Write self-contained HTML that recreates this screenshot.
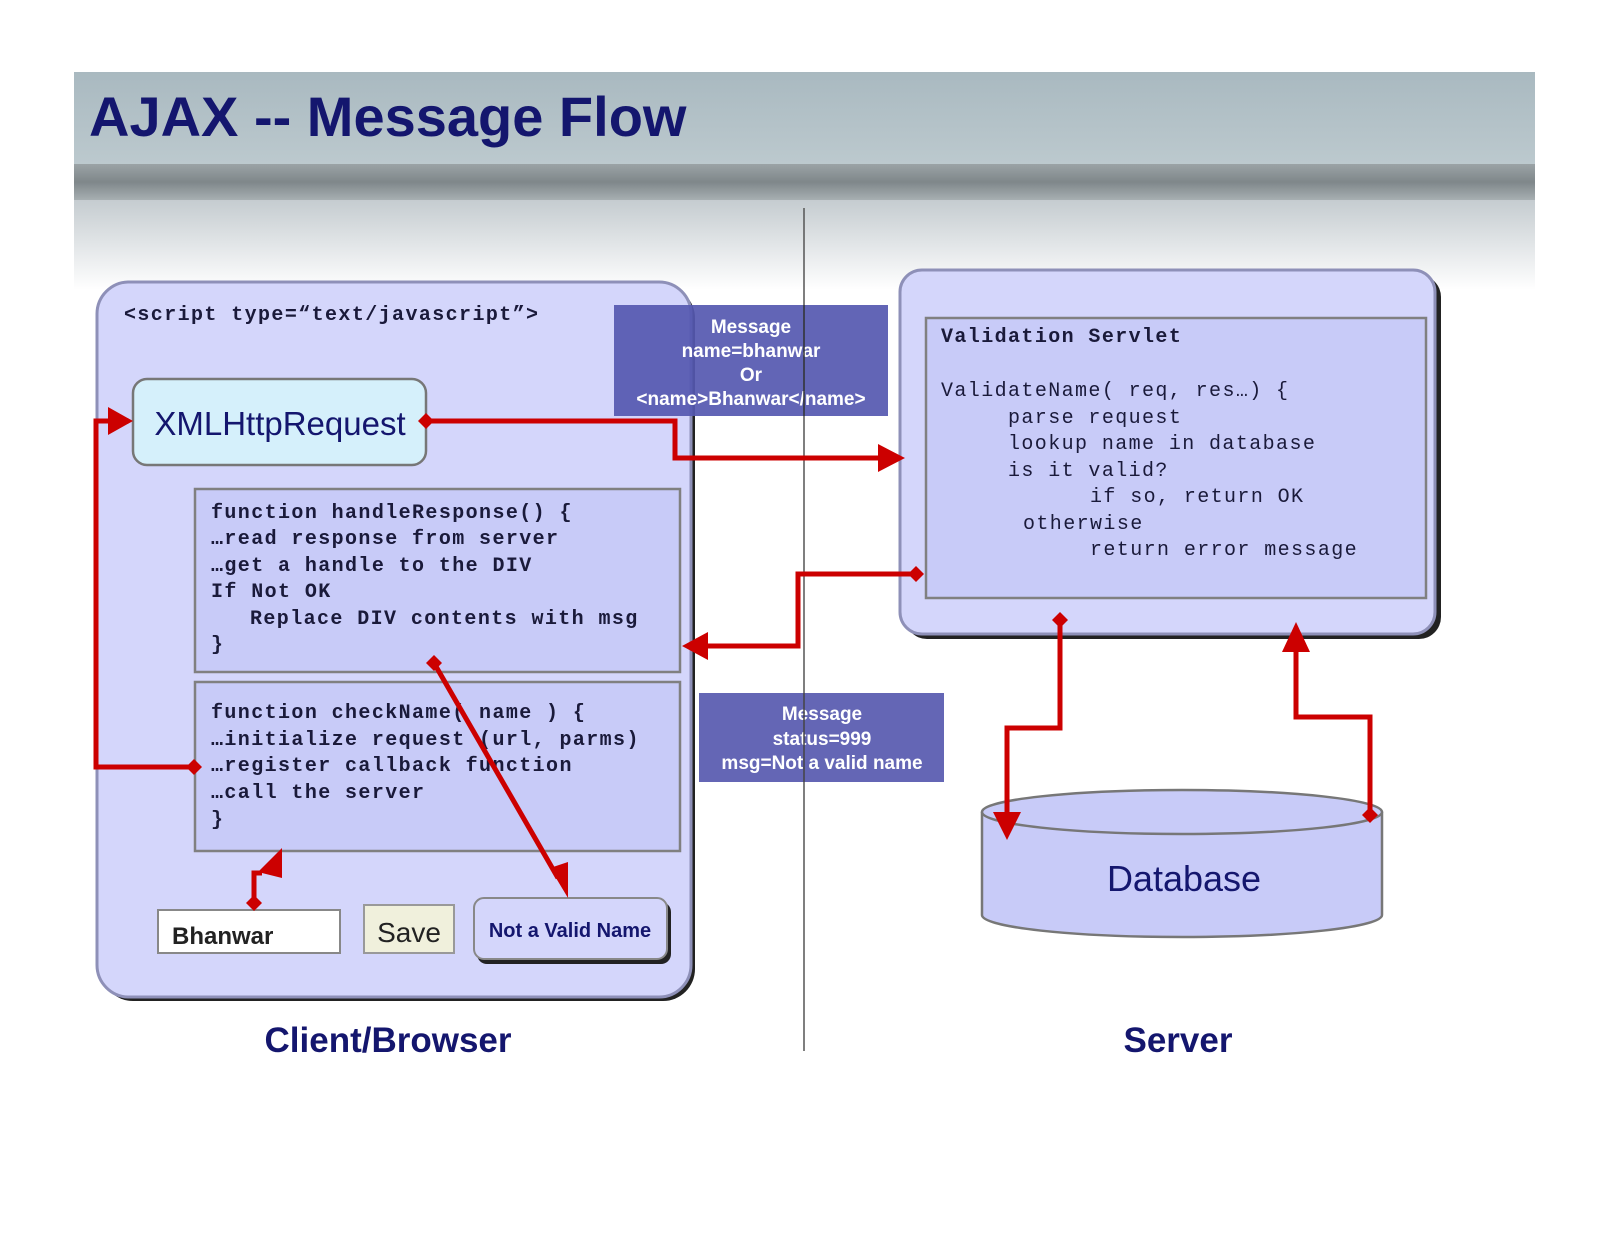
<!DOCTYPE html>
<html><head><meta charset="utf-8"><style>
html,body{margin:0;padding:0;background:#fff}
svg{display:block}
.mono{font-family:"Liberation Mono",monospace;font-size:20px;letter-spacing:1.4px;fill:#1a1a3a}
.b{font-weight:bold}
.msg{font-family:"Liberation Sans Narrow","Liberation Sans",sans-serif;font-weight:bold;font-size:19px;fill:#fff}
</style></head><body>
<svg width="1600" height="1236" viewBox="0 0 1600 1236" xmlns="http://www.w3.org/2000/svg">
<defs>
<linearGradient id="hg" x1="0" y1="0" x2="0" y2="1">
<stop offset="0" stop-color="#a9b9c0"/><stop offset="1" stop-color="#bcc9ce"/></linearGradient>
<linearGradient id="strip" x1="0" y1="0" x2="0" y2="1">
<stop offset="0" stop-color="#9ba3a6"/><stop offset="0.5" stop-color="#7f878a"/><stop offset="1" stop-color="#a7afb2"/></linearGradient>
<linearGradient id="fade" x1="0" y1="0" x2="0" y2="1">
<stop offset="0" stop-color="#c5ccd0"/><stop offset="1" stop-color="#ffffff"/></linearGradient>
</defs>
<rect x="74" y="72" width="1461" height="92" fill="url(#hg)"/>
<rect x="74" y="164" width="1461" height="36" fill="url(#strip)"/>
<rect x="74" y="200" width="1461" height="90" fill="url(#fade)"/>
<text x="89" y="136" font-family="Liberation Sans,sans-serif" font-weight="bold" font-size="56" fill="#14166e">AJAX -- Message Flow</text>

<line x1="804" y1="208" x2="804" y2="1051" stroke="#555" stroke-width="1.5"/>

<!-- client box -->
<rect x="101" y="286" width="594" height="715" rx="32" fill="#222"/>
<rect x="97" y="282" width="594" height="715" rx="32" fill="#d4d6fb" stroke="#8e90b8" stroke-width="3"/>
<text x="124" y="320" class="mono b">&lt;script type=“text/javascript”&gt;</text>
<rect x="133" y="379" width="293" height="86" rx="14" fill="#d5f0fb" stroke="#777" stroke-width="2.5"/>
<text x="280" y="435" text-anchor="middle" font-family="Liberation Sans,sans-serif" font-size="33" fill="#14166e">XMLHttpRequest</text>

<rect x="195" y="489" width="485" height="183" fill="#c8cbf8" stroke="#808080" stroke-width="2.5"/>
<text class="mono b"><tspan x="211" y="518">function handleResponse() {</tspan><tspan x="211" y="544">…read response from server</tspan><tspan x="211" y="571">…get a handle to the DIV</tspan><tspan x="211" y="597">If Not OK</tspan><tspan x="250" y="624">Replace DIV contents with msg</tspan><tspan x="211" y="650">}</tspan></text>

<rect x="195" y="682" width="485" height="169" fill="#c8cbf8" stroke="#808080" stroke-width="2.5"/>
<text class="mono b"><tspan x="211" y="718">function checkName( name ) {</tspan><tspan x="211" y="745">…initialize request (url, parms)</tspan><tspan x="211" y="771">…register callback function</tspan><tspan x="211" y="798">…call the server</tspan><tspan x="211" y="825">}</tspan></text>

<rect x="158" y="910" width="182" height="43" fill="#fff" stroke="#888" stroke-width="2"/>
<text x="172" y="944" font-family="Liberation Sans Narrow,Liberation Sans,sans-serif" font-weight="bold" font-size="24" fill="#222">Bhanwar</text>
<rect x="364" y="905" width="90" height="48" fill="#f0f0dc" stroke="#999" stroke-width="2"/>
<text x="409" y="942" text-anchor="middle" font-family="Liberation Sans,sans-serif" font-size="28" fill="#222">Save</text>
<rect x="477" y="902" width="194" height="62" rx="10" fill="#222"/>
<rect x="474" y="898" width="193" height="61" rx="10" fill="#d4d6fb" stroke="#888" stroke-width="2"/>
<text x="570" y="937" text-anchor="middle" font-family="Liberation Sans Narrow,Liberation Sans,sans-serif" font-weight="bold" font-size="20" fill="#14166e">Not a Valid Name</text>

<!-- messages -->
<rect x="614" y="305" width="274" height="111" fill="#5558b0" opacity="0.92"/>
<text class="msg" text-anchor="middle"><tspan x="751" y="333">Message</tspan><tspan x="751" y="357">name=bhanwar</tspan><tspan x="751" y="381">Or</tspan><tspan x="751" y="405">&lt;name&gt;Bhanwar&lt;/name&gt;</tspan></text>
<rect x="699" y="693" width="245" height="89" fill="#6466b5"/>
<text class="msg" text-anchor="middle"><tspan x="822" y="720">Message</tspan><tspan x="822" y="745">status=999</tspan><tspan x="822" y="769">msg=Not a valid name</tspan></text>
<line x1="804" y1="693" x2="804" y2="782" stroke="#444" stroke-width="1.5"/>
<line x1="804" y1="305" x2="804" y2="416" stroke="#333" stroke-width="1.5"/>

<!-- server -->
<rect x="905" y="275" width="536" height="364" rx="22" fill="#222"/>
<rect x="900" y="270" width="535" height="364" rx="22" fill="#d4d6fb" stroke="#8e90b8" stroke-width="3"/>
<rect x="926" y="318" width="500" height="280" fill="#c8cbf8" stroke="#808080" stroke-width="2.5"/>
<text x="941" y="342" class="mono b">Validation Servlet</text>
<text class="mono"><tspan x="941" y="396">ValidateName( req, res…) {</tspan><tspan x="1008" y="423">parse request</tspan><tspan x="1008" y="449">lookup name in database</tspan><tspan x="1008" y="476">is it valid?</tspan><tspan x="1090" y="502">if so, return OK</tspan><tspan x="1023" y="529">otherwise</tspan><tspan x="1090" y="555">return error message</tspan></text>

<!-- database -->
<path d="M982,812 L982,915 A200,22 0 0 0 1382,915 L1382,812" fill="#c8cbf8" stroke="#777" stroke-width="2.5"/>
<ellipse cx="1182" cy="812" rx="200" ry="22" fill="#c8cbf8" stroke="#777" stroke-width="2.5"/>
<text x="1184" y="891" text-anchor="middle" font-family="Liberation Sans,sans-serif" font-size="36" fill="#14166e">Database</text>

<text x="388" y="1052" text-anchor="middle" font-family="Liberation Sans,sans-serif" font-weight="bold" font-size="35" fill="#14166e">Client/Browser</text>
<text x="1178" y="1052" text-anchor="middle" font-family="Liberation Sans,sans-serif" font-weight="bold" font-size="35" fill="#14166e">Server</text>

<!-- connectors -->
<g stroke="#cc0000" stroke-width="5" fill="none">
<polyline points="426,421 675,421 675,458 880,458"/>
<polyline points="194,767 96,767 96,421 112,421"/>
<polyline points="916,574 798,574 798,646 705,646"/>
<line x1="434" y1="663" x2="558" y2="878"/>
<polyline points="254,903 254,873 262,873"/>
<polyline points="1060,620 1060,728 1007,728 1007,815"/>
<polyline points="1370,815 1370,717 1296,717 1296,650"/>
</g>
<g fill="#cc0000">
<path d="M905,458 L878,444 L878,472 z"/>
<path d="M133,421 L108,407 L108,435 z"/>
<path d="M682,646 L708,632 L708,660 z"/>
<path d="M568,898 L550,868 L568,862 z"/>
<path d="M282,848 L282,878 L258,872 z"/>
<path d="M1007,840 L993,812 L1021,812 z"/>
<path d="M1296,622 L1282,652 L1310,652 z"/>
<path d="M426,413 L434,421 L426,429 L418,421 z"/>
<path d="M194,759 L202,767 L194,775 L186,767 z"/>
<path d="M916,566 L924,574 L916,582 L908,574 z"/>
<path d="M434,655 L442,663 L434,671 L426,663 z"/>
<path d="M254,895 L262,903 L254,911 L246,903 z"/>
<path d="M1060,612 L1068,620 L1060,628 L1052,620 z"/>
<path d="M1370,807 L1378,815 L1370,823 L1362,815 z"/>
</g>
</svg>
</body></html>
